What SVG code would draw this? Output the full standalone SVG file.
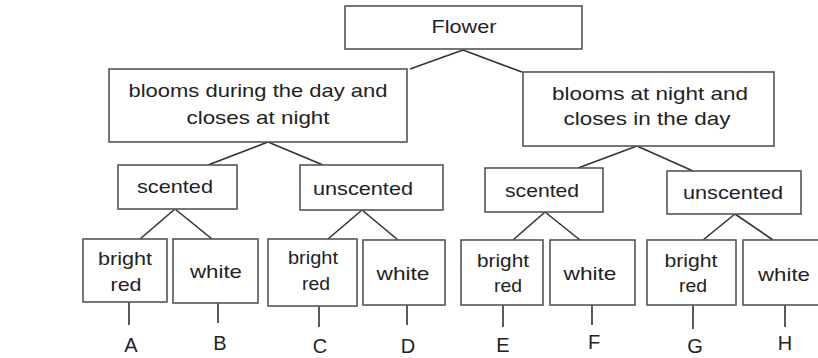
<svg xmlns="http://www.w3.org/2000/svg" width="818" height="358" viewBox="0 0 818 358">
<style>
.box{fill:#fff;stroke:#555;stroke-width:1.6}
.t{font-family:"Liberation Sans",Arial,sans-serif;font-size:19px;fill:#222;text-anchor:middle}
.lbl{font-family:"Liberation Sans",Arial,sans-serif;font-size:20px;fill:#222;text-anchor:middle}
.c line{stroke:#333;stroke-width:1.6}
</style>
<rect width="818" height="358" fill="#fff"/>
<g class="c" id="connectors">
<line x1="463" y1="50" x2="410" y2="69"/>
<line x1="463" y1="50" x2="522" y2="72"/>
<line x1="268" y1="142" x2="208" y2="165"/>
<line x1="268" y1="142" x2="323" y2="165"/>
<line x1="175" y1="209" x2="140" y2="239"/>
<line x1="175" y1="209" x2="212" y2="239"/>
<line x1="362" y1="210" x2="328" y2="239"/>
<line x1="362" y1="210" x2="398" y2="240"/>
<line x1="637" y1="146" x2="578" y2="168"/>
<line x1="637" y1="146" x2="693" y2="171"/>
<line x1="545" y1="212" x2="513" y2="240"/>
<line x1="545" y1="212" x2="580" y2="240"/>
<line x1="735" y1="214" x2="703" y2="240"/>
<line x1="735" y1="214" x2="773" y2="240"/>
<line x1="129" y1="302" x2="129" y2="325"/>
<line x1="218" y1="303" x2="218" y2="323"/>
<line x1="319" y1="306" x2="319" y2="327"/>
<line x1="407" y1="305" x2="407" y2="325"/>
<line x1="503" y1="305" x2="503" y2="327"/>
<line x1="592" y1="305" x2="592" y2="325"/>
<line x1="693" y1="305" x2="693" y2="329"/>
<line x1="785" y1="305" x2="785" y2="327"/>
</g>
<g id="flower"><rect class="box" x="345" y="6" width="237" height="43"/><text class="t" x="464" y="33" textLength="65" lengthAdjust="spacingAndGlyphs">Flower</text></g>
<g id="day"><rect class="box" x="109" y="69" width="298" height="73"/>
<text class="t" x="258" y="97" textLength="259" lengthAdjust="spacingAndGlyphs">blooms during the day and</text>
<text class="t" x="258" y="124" textLength="143" lengthAdjust="spacingAndGlyphs">closes at night</text></g>
<g id="night"><rect class="box" x="523" y="72" width="251" height="74"/>
<text class="t" x="650" y="100" textLength="196" lengthAdjust="spacingAndGlyphs">blooms at night and</text>
<text class="t" x="647" y="125" textLength="167" lengthAdjust="spacingAndGlyphs">closes in the day</text></g>
<g id="scented1"><rect class="box" x="118" y="165" width="119" height="44"/><text class="t" x="175" y="193" textLength="76" lengthAdjust="spacingAndGlyphs">scented</text></g>
<g id="unscented1"><rect class="box" x="300" y="165" width="143" height="45"/><text class="t" x="363" y="195" textLength="100" lengthAdjust="spacingAndGlyphs">unscented</text></g>
<g id="scented2"><rect class="box" x="485" y="168" width="118" height="44"/><text class="t" x="542" y="197" textLength="74" lengthAdjust="spacingAndGlyphs">scented</text></g>
<g id="unscented2"><rect class="box" x="667" y="171" width="134" height="43"/><text class="t" x="733" y="199" textLength="100" lengthAdjust="spacingAndGlyphs">unscented</text></g>
<g id="nodeA"><rect class="box" x="83" y="239" width="84" height="63"/>
<text class="t" x="125" y="265" textLength="54" lengthAdjust="spacingAndGlyphs">bright</text>
<text class="t" x="126" y="291" textLength="31" lengthAdjust="spacingAndGlyphs">red</text></g>
<g id="nodeB"><rect class="box" x="173" y="239" width="85" height="64"/>
<text class="t" x="216" y="278" textLength="52" lengthAdjust="spacingAndGlyphs">white</text></g>
<g id="nodeC"><rect class="box" x="268" y="239" width="89" height="67"/>
<text class="t" x="313" y="264" textLength="50" lengthAdjust="spacingAndGlyphs">bright</text>
<text class="t" x="316" y="290" textLength="28" lengthAdjust="spacingAndGlyphs">red</text></g>
<g id="nodeD"><rect class="box" x="363" y="240" width="82" height="65"/>
<text class="t" x="403" y="280" textLength="53" lengthAdjust="spacingAndGlyphs">white</text></g>
<g id="nodeE"><rect class="box" x="461" y="240" width="82" height="65"/>
<text class="t" x="503" y="267" textLength="52" lengthAdjust="spacingAndGlyphs">bright</text>
<text class="t" x="508" y="292" textLength="28" lengthAdjust="spacingAndGlyphs">red</text></g>
<g id="nodeF"><rect class="box" x="550" y="240" width="85" height="65"/>
<text class="t" x="590" y="280" textLength="53" lengthAdjust="spacingAndGlyphs">white</text></g>
<g id="nodeG"><rect class="box" x="647" y="240" width="89" height="65"/>
<text class="t" x="691" y="267" textLength="53" lengthAdjust="spacingAndGlyphs">bright</text>
<text class="t" x="693" y="292" textLength="28" lengthAdjust="spacingAndGlyphs">red</text></g>
<g id="nodeH"><rect class="box" x="743" y="240" width="85" height="65"/>
<text class="t" x="784" y="281" textLength="52" lengthAdjust="spacingAndGlyphs">white</text></g>
<g id="labels">
<text class="lbl" x="131" y="352">A</text>
<text class="lbl" x="220" y="350">B</text>
<text class="lbl" x="320" y="353">C</text>
<text class="lbl" x="408" y="353">D</text>
<text class="lbl" x="503" y="352">E</text>
<text class="lbl" x="594" y="349">F</text>
<text class="lbl" x="695" y="353">G</text>
<text class="lbl" x="785" y="350">H</text>
</g>
</svg>
